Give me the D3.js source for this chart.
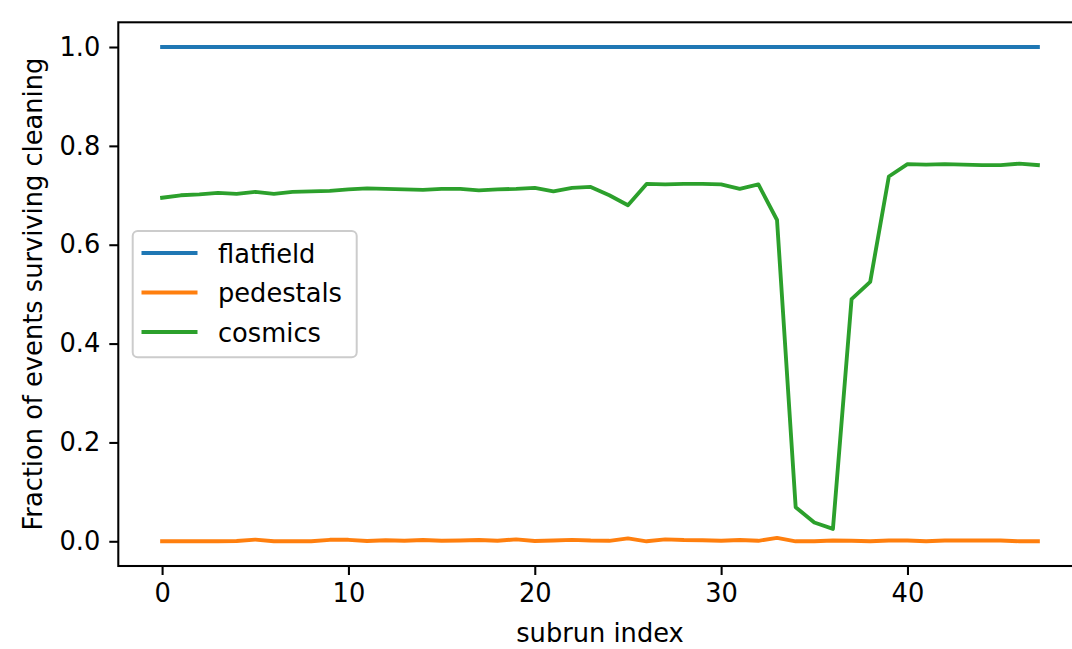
<!DOCTYPE html>
<html lang="en">
    <head>
        <meta charset="utf-8">
        <title>Fraction of events surviving cleaning</title>
        <script type="text/javascript" src="https://cdn.jsdelivr.net/npm/d3@7"></script>
        <style type="text/css">
            body { margin: 0; background: #ffffff; }
            text { font-family: "DejaVu Sans", sans-serif; }
        </style>
    </head>

    <body>
        <script type="text/javascript">
            // Subrun index (x) for every point
            var subrun = [ 0, 1, 2, 3, 4, 5, 6, 7, 8, 9, 10, 11, 12, 13, 14, 15,
                           16, 17, 18, 19, 20, 21, 22, 23, 24, 25, 26, 27, 28, 29, 30, 31,
                           32, 33, 34, 35, 36, 37, 38, 39, 40, 41, 42, 43, 44, 45, 46, 47 ];

            var flatfield = [ 1, 1, 1, 1, 1, 1, 1, 1, 1, 1, 1, 1, 1, 1, 1, 1,
                              1, 1, 1, 1, 1, 1, 1, 1, 1, 1, 1, 1, 1, 1, 1, 1,
                              1, 1, 1, 1, 1, 1, 1, 1, 1, 1, 1, 1, 1, 1, 1, 1 ];

            var pedestals = [ 0, 0, 0, 0, 0.0005, 0.0035, 0, 0, 0, 0.003, 0.003, 0.0005, 0.002, 0.001, 0.0025, 0.001,
                              0.0015, 0.0025, 0.001, 0.004, 0.0005, 0.0015, 0.003, 0.0015, 0.001, 0.006, 0, 0.004, 0.0025, 0.002, 0.001, 0.0025,
                              0.001, 0.007, 0, 0, 0.0015, 0.001, 0, 0.0015, 0.0015, 0, 0.0015, 0.0015, 0.0015, 0.0015, 0, 0 ];

            var cosmics = [ 0.695, 0.700, 0.702, 0.705, 0.703, 0.707, 0.703, 0.707, 0.708, 0.709, 0.712, 0.714, 0.713, 0.712, 0.711, 0.713,
                            0.713, 0.710, 0.712, 0.713, 0.715, 0.708, 0.715, 0.717, 0.700, 0.680, 0.723, 0.722, 0.723, 0.723, 0.722, 0.713,
                            0.722, 0.650, 0.069, 0.038, 0.025, 0.490, 0.525, 0.738, 0.763, 0.762, 0.763, 0.762, 0.761, 0.761, 0.764, 0.761 ];

            var seriesNames = [ "flatfield", "pedestals", "cosmics" ];
            var seriesColors = [ "#1f77b4", "#ff7f0e", "#2ca02c" ];
            var xTicks = [ 0, 10, 20, 30, 40 ];
            var yTicks = [ 0, 0.2, 0.4, 0.6, 0.8, 1.0 ];

            // Dimensions of svg and axes box (right spine falls just outside the picture)
            var w = 1072;
            var h = 649;
            var boxLeft = 118.3, boxRight = 1081.7, boxTop = 22.3, boxBottom = 566;
            var fontSize = 25.7;

            var svg = d3.select("body")
                        .append("svg")
                        .attr("width", w)
                        .attr("height", h);

            // Scales with matplotlib's 5% margins
            var x = d3.scaleLinear().domain([-2.35, 49.35]).range([boxLeft, boxRight]);
            var y = d3.scaleLinear().domain([-0.05, 1.05]).range([boxBottom, boxTop]);

            // Lines
            var allSeries = [ flatfield, pedestals, cosmics ];
            var line = d3.line()
                .x(function(d, i) { return x(subrun[i]); })
                .y(function(d) { return y(d); });

            svg.selectAll("path.series")
                .data(allSeries)
                .enter()
                .append("path")
                .attr("class", "series")
                .attr("d", line)
                .attr("fill", "none")
                .attr("stroke", function(d, i) { return seriesColors[i]; })
                .attr("stroke-width", 3.86)
                .attr("stroke-linejoin", "round")
                .attr("stroke-linecap", "square");

            // Axes
            var xAxis = svg.append("g")
                .attr("transform", "translate(0," + boxBottom + ")")
                .call(d3.axisBottom(x).tickValues(xTicks).tickSize(9).tickPadding(9).tickSizeOuter(0));

            var yAxis = svg.append("g")
                .attr("transform", "translate(" + boxLeft + ",0)")
                .call(d3.axisLeft(y).tickValues(yTicks).tickFormat(d3.format(".1f")).tickSize(9).tickPadding(9).tickSizeOuter(0));

            [xAxis, yAxis].forEach(function(g) {
                g.select(".domain").remove();
                g.selectAll(".tick line").attr("stroke", "#000").attr("stroke-width", 2.06);
                g.selectAll(".tick text")
                    .attr("fill", "#000")
                    .style("font-family", "DejaVu Sans")
                    .style("font-size", fontSize + "px");
            });

            // Frame of the axes
            svg.append("rect")
                .attr("x", boxLeft)
                .attr("y", boxTop)
                .attr("width", boxRight - boxLeft)
                .attr("height", boxBottom - boxTop)
                .attr("fill", "none")
                .attr("stroke", "#000")
                .attr("stroke-width", 2.06);

            // Axis labels
            svg.append("text")
                .attr("x", (boxLeft + boxRight) / 2)
                .attr("y", 641.5)
                .attr("text-anchor", "middle")
                .style("font-size", fontSize + "px")
                .text("subrun index");

            svg.append("text")
                .attr("transform", "translate(42," + ((boxTop + boxBottom) / 2) + ") rotate(-90)")
                .attr("text-anchor", "middle")
                .style("font-size", fontSize + "px")
                .text("Fraction of events surviving cleaning");

            // Legend
            var legend = svg.append("g");
            legend.append("rect")
                .attr("x", 132.7)
                .attr("y", 231)
                .attr("width", 224)
                .attr("height", 126.3)
                .attr("rx", 5)
                .attr("fill", "#ffffff")
                .attr("fill-opacity", 0.8)
                .attr("stroke", "#cccccc")
                .attr("stroke-width", 2);

            var rows = legend.selectAll("g.row")
                .data(seriesNames)
                .enter()
                .append("g")
                .attr("class", "row")
                .attr("transform", function(d, i) { return "translate(0," + (253 + i * 39.5) + ")"; });

            rows.append("line")
                .attr("x1", 141.5)
                .attr("x2", 197.5)
                .attr("stroke", function(d, i) { return seriesColors[i]; })
                .attr("stroke-width", 3.86);

            rows.append("text")
                .attr("x", 218)
                .attr("y", 9.7)
                .style("font-size", fontSize + "px")
                .text(function(d) { return d; });
        </script>
    </body>
</html>
